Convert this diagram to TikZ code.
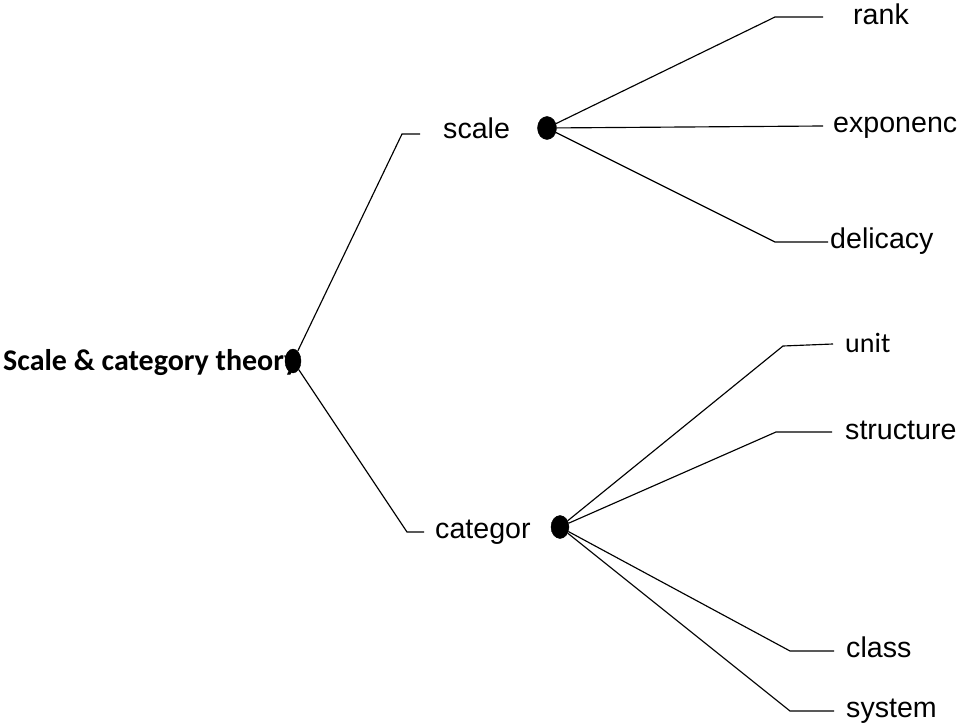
\documentclass[tikz,border=0pt]{standalone}
\usepackage{fontspec}
\setmainfont{Liberation Sans}
\newfontfamily\calfont{Carlito}
\usetikzlibrary{shapes.geometric}
\begin{document}
\begin{tikzpicture}[x=1pt,y=-1pt,
  dot/.style={ellipse,fill=black,draw=black,inner sep=0pt},
  lbl/.style={anchor=base west,inner sep=0pt,font=\fontsize{28.6}{34}\selectfont},
  callbl/.style={anchor=base west,inner sep=0pt,font=\calfont\fontsize{28}{34}\selectfont},
  link/.style={draw=black,line width=1.15pt}]
\useasboundingbox (0,0) rectangle (958,727);

% title text first, so the root dot sits over its last letter
\node[anchor=base west,inner sep=0pt,font=\calfont\bfseries\fontsize{30}{36}\selectfont] (title) at (3,370) {Scale \& category theory};

% hub dots
\node[dot,minimum width=16,minimum height=24] (root) at (293,361) {};
\node[dot,minimum width=19,minimum height=23] (sdot) at (547,128) {};
\node[dot,minimum width=18,minimum height=23] (cdot) at (560,527) {};

% labels
\node[lbl] (scale) at (443,139) {scale};
\node[lbl] (categor) at (435,538) {categor};
\node[lbl] (rank) at (853,25) {rank};
\node[lbl] (expo) at (833,133) {exponenc};
\node[lbl] (deli) at (830,249) {delicacy};
\node[callbl] (unit) at (845,352) {unit};
\node[lbl] (struc) at (845,439) {structure};
\node[lbl] (class) at (846,657) {class};
\node[lbl] (system) at (846,717) {system};

% bend and end points of the leader lines
\coordinate (ks) at (402,134);  \coordinate (es) at (420,134);
\coordinate (kc) at (407,532);  \coordinate (ec) at (424,532);
\coordinate (kr) at (775,17);   \coordinate (er) at (823,17);
\coordinate (ee) at (823,126);
\coordinate (kd) at (775,242);  \coordinate (ed) at (828,242);
\coordinate (ku) at (783,346);  \coordinate (eu) at (833,344);
\coordinate (kt) at (776,432);  \coordinate (et) at (832,432);
\coordinate (kl) at (790,651);  \coordinate (el) at (834,651);
\coordinate (ky) at (790,711);  \coordinate (ey) at (834,711);

% leader lines
\draw[link] (root) -- (ks) -- (es);
\draw[link] (root) -- (kc) -- (ec);
\draw[link] (sdot) -- (kr) -- (er);
\draw[link] (sdot) -- (ee);
\draw[link] (sdot) -- (kd) -- (ed);
\draw[link] (cdot) -- (ku) -- (eu);
\draw[link] (cdot) -- (kt) -- (et);
\draw[link] (cdot) -- (kl) -- (el);
\draw[link] (cdot) -- (ky) -- (ey);
\end{tikzpicture}
\end{document}
